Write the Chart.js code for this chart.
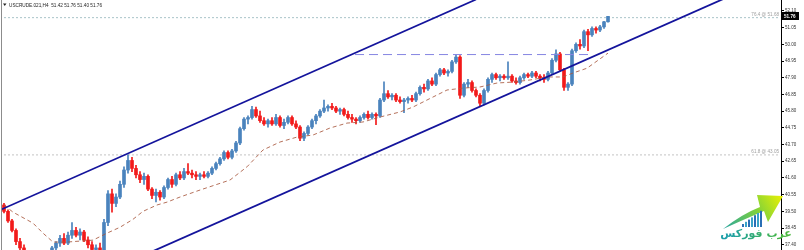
<!DOCTYPE html>
<html>
<head>
<meta charset="utf-8">
<script src="https://cdn.jsdelivr.net/npm/chart.js@4.4.1/dist/chart.umd.min.js"></script>
<style>
  html, body { margin: 0; padding: 0; background: #fff; }
  #wrap { width: 804px; height: 250px; position: relative; }
</style>
</head>
<body>
<div id="wrap"><canvas id="chart"></canvas></div>
<script>
const symbolTitle = 'USCRUDE.021,H4';
const lastQuote = [51.42, 51.76, 51.40, 51.76];

// H4 candles, oldest first
const opens = [
  39.9, 39.5, 38.9, 38.3, 37.6, 37.2, 36.9, 36.6, 36.8, 36.6,
  36.5, 36.8, 36.9, 37.2, 37.5, 37.8, 37.5, 38.0, 38.3, 38.0,
  38.2, 37.7, 37.4, 37.1, 37.2, 37.0, 38.8, 40.6, 40.0, 40.4,
  41.2, 42.1, 42.7, 42.2, 41.8, 41.5, 41.7, 40.9, 40.5, 40.7,
  40.4, 41.0, 41.5, 41.2, 41.8, 41.6, 42.0, 41.9, 41.8, 41.7,
  41.8, 41.7, 41.9, 42.2, 42.5, 42.8, 43.2, 42.9, 43.3, 43.8,
  44.7, 45.3, 45.4, 45.9, 45.5, 45.2, 45.0, 45.2, 45.0, 45.4,
  44.9, 45.1, 45.4, 45.0, 44.8, 44.1, 44.4, 44.8, 45.2, 45.5,
  45.8, 46.0, 46.1, 46.0, 45.8, 45.9, 45.6, 45.4, 45.3, 45.2,
  45.4, 45.6, 45.4, 45.6, 45.5, 46.5, 46.9, 46.7, 46.8, 46.5,
  46.4, 46.5, 46.6, 46.5, 46.9, 47.3, 47.2, 47.7, 47.5, 48.1,
  48.4, 48.2, 48.3, 48.9, 49.2, 46.8, 47.5, 47.6, 47.1, 46.8,
  46.3, 47.1, 47.8, 48.1, 47.9, 48.0, 47.9, 48.0, 47.7, 47.6,
  47.9, 48.1, 48.0, 48.2, 48.0, 47.9, 47.8, 48.2, 49.0, 49.4,
  48.4, 47.3, 47.5, 49.6, 50.0, 49.9, 50.8, 50.6, 51.0, 50.9,
  51.1, 51.42
];
const highs = [
  40.0, 39.6, 39.0, 38.4, 37.8, 37.4, 37.0, 36.9, 36.95, 36.8,
  36.9, 37.0, 37.3, 37.6, 38.0, 38.1, 38.2, 38.8, 38.5, 38.4,
  38.3, 37.9, 37.6, 37.4, 37.5, 39.0, 40.8, 40.9, 40.6, 41.4,
  42.3, 43.05, 42.9, 42.4, 42.0, 41.9, 41.8, 41.0, 40.9, 40.8,
  41.1, 41.6, 41.7, 41.9, 42.0, 42.2, 42.5, 42.1, 42.0, 41.9,
  42.0, 42.0, 42.3, 42.6, 42.9, 43.3, 43.3, 43.4, 43.9, 44.8,
  45.4, 45.5, 46.1, 46.05, 45.8, 45.4, 45.3, 45.4, 45.6, 45.5,
  45.3, 45.5, 45.5, 45.2, 44.9, 44.5, 44.9, 45.3, 45.6, 45.9,
  46.5, 46.2, 46.3, 46.1, 46.0, 46.0, 45.8, 45.6, 45.4, 45.5,
  45.7, 45.8, 45.7, 45.7, 46.6, 47.65, 47.1, 46.9, 46.9, 46.7,
  46.6, 46.7, 46.8, 47.0, 47.4, 47.5, 47.8, 47.9, 48.2, 48.5,
  48.5, 48.4, 49.0, 49.36, 49.3, 47.6, 47.8, 47.7, 47.2, 46.9,
  47.2, 47.9, 48.2, 48.2, 48.1, 48.1, 48.9, 48.1, 47.9, 48.0,
  48.2, 48.2, 48.3, 48.3, 48.1, 48.1, 48.3, 49.1, 49.65, 49.5,
  48.5, 47.6, 49.7, 50.1, 50.3, 50.9, 50.95, 51.1, 51.1, 51.2,
  51.45, 51.76
];
const lows = [
  39.4, 38.8, 38.2, 37.4, 37.0, 36.7, 36.5, 36.4, 36.5, 36.3,
  36.4, 36.6, 36.8, 37.0, 37.3, 37.4, 37.4, 37.8, 37.9, 37.7,
  37.6, 37.2, 36.9, 36.8, 36.9, 36.9, 38.6, 39.45, 39.8, 40.3,
  41.0, 41.9, 42.0, 41.6, 41.3, 41.2, 40.8, 40.3, 40.1, 40.2,
  40.3, 40.9, 41.0, 41.1, 41.5, 41.5, 41.8, 41.6, 41.5, 41.5,
  41.6, 41.6, 41.8, 42.1, 42.4, 42.7, 42.8, 42.8, 43.2, 43.7,
  44.6, 45.0, 45.3, 45.4, 45.1, 44.9, 44.8, 44.9, 44.9, 44.8,
  44.7, 45.0, 44.9, 44.7, 43.95, 43.95, 44.3, 44.7, 45.0, 45.4,
  45.7, 45.8, 45.9, 45.7, 45.6, 45.5, 45.3, 45.1, 45.0, 45.1,
  45.3, 45.3, 45.3, 44.95, 45.4, 46.4, 46.6, 46.5, 46.4, 46.3,
  45.7, 46.3, 46.4, 46.4, 46.8, 47.0, 47.1, 47.4, 47.4, 48.0,
  48.1, 48.0, 48.2, 48.8, 46.6, 46.7, 47.3, 47.0, 46.7, 46.1,
  46.2, 47.0, 47.6, 47.8, 47.7, 47.8, 47.8, 47.6, 47.5, 47.5,
  47.8, 47.9, 47.9, 47.9, 47.7, 47.6, 47.7, 48.1, 48.9, 48.3,
  47.1, 47.1, 47.4, 49.5, 49.7, 49.8, 49.6, 50.5, 50.7, 50.8,
  51.0, 51.40
];
const closes = [
  39.5, 38.9, 38.3, 37.6, 37.2, 36.9, 36.6, 36.8, 36.6, 36.5,
  36.8, 36.9, 37.2, 37.5, 37.8, 37.5, 38.0, 38.3, 38.0, 38.2,
  37.7, 37.4, 37.1, 37.2, 37.0, 38.8, 40.6, 40.0, 40.4, 41.2,
  42.1, 42.7, 42.2, 41.8, 41.5, 41.7, 40.9, 40.5, 40.7, 40.4,
  41.0, 41.5, 41.2, 41.8, 41.6, 42.0, 41.9, 41.8, 41.7, 41.8,
  41.7, 41.9, 42.2, 42.5, 42.8, 43.2, 42.9, 43.3, 43.8, 44.7,
  45.3, 45.4, 45.9, 45.5, 45.2, 45.0, 45.2, 45.0, 45.4, 44.9,
  45.1, 45.4, 45.0, 44.8, 44.1, 44.4, 44.8, 45.2, 45.5, 45.8,
  46.0, 46.1, 46.0, 45.8, 45.9, 45.6, 45.4, 45.3, 45.2, 45.4,
  45.6, 45.4, 45.6, 45.5, 46.5, 46.9, 46.7, 46.8, 46.5, 46.4,
  46.5, 46.6, 46.5, 46.9, 47.3, 47.2, 47.7, 47.5, 48.1, 48.4,
  48.2, 48.3, 48.9, 49.2, 46.8, 47.5, 47.6, 47.1, 46.8, 46.3,
  47.1, 47.8, 48.1, 47.9, 48.0, 47.9, 48.0, 47.7, 47.6, 47.9,
  48.1, 48.0, 48.2, 48.0, 47.9, 47.8, 48.2, 49.0, 49.4, 48.4,
  47.3, 47.5, 49.6, 50.0, 49.9, 50.8, 50.6, 51.0, 50.9, 51.1,
  51.42, 51.76
];

// moving average as [bar, price]
const maPoints = [
  [0, 39.9], [2.25, 39.45], [7.25, 38.76], [9.75, 38.13], [12.25, 37.57],
  [15.75, 37.57], [22.25, 37.69], [25.75, 38.13], [29, 38.5], [32.25, 39.0],
  [34.75, 39.5], [38.25, 39.9], [40.75, 40.08], [44, 40.4], [49, 40.84],
  [56.5, 41.47], [60.75, 42.3], [64.75, 43.36], [69, 43.86], [73.25, 44.17],
  [77.25, 44.3], [81.5, 44.74], [85.75, 45.05], [89.75, 45.12], [94, 45.43],
  [99, 45.75], [102.25, 46.06], [110.75, 47.13], [114.75, 47.25], [119, 47.32],
  [123.25, 47.57], [127.25, 47.63], [131.5, 47.76], [135.75, 47.95], [139.75, 47.95],
  [142.25, 48.2], [145.75, 48.5], [151, 49.45]
];

// drawn objects: channel, resistance, fibo levels
const upperChannel = [[-1, 39.58], [118, 52.82]];
const lowerChannel = [[36, 36.86], [194, 54.43]];
const resistance = [[87.75, 49.36], [147, 49.36]];
const fibLevels = [51.68, 43.05];
const fibNames = ['76.4', '61.8'];
const fibEnd = 194;

const yTicks = [37.40, 38.45, 39.50, 40.55, 41.60, 42.65, 43.70, 44.75,
                45.80, 46.85, 47.90, 48.95, 50.00, 51.05, 52.10];

const bull = '#4a83bd';
const bear = '#f21a1a';
const isUp = i => closes[i] >= opens[i];
const toXY = arr => arr.map(p => ({ x: p[0], y: p[1] }));

Chart.defaults.font.family = '"Liberation Sans", Arial, sans-serif';

const decor = {
    id: 'decor',
    beforeDraw(chart) {
        const c = chart.ctx;
        c.save();
        c.fillStyle = '#fff';
        c.fillRect(0, 0, chart.width, chart.height);
        c.restore();
    },
    afterDatasetsDraw(chart) {
        const c = chart.ctx;
        const y = chart.scales.y;
        const a = chart.chartArea;
        c.save();
        c.font = '4.6px "Liberation Sans"';
        c.fillStyle = '#a0a0a0';
        c.textAlign = 'right';
        c.textBaseline = 'bottom';
        fibLevels.forEach((lv, k) => {
            c.fillText(fibNames[k] + ' @ ' + lv.toFixed(2), a.right - 2, y.getPixelForValue(lv) - 0.5);
        });
        c.restore();
    },
    afterDraw(chart) {
        const c = chart.ctx;
        const a = chart.chartArea;
        const y = chart.scales.y;
        c.save();
        // frame
        c.strokeStyle = '#8c8c8c';
        c.lineWidth = 1;
        c.beginPath();
        c.moveTo(a.left + 0.5, 0);
        c.lineTo(a.left + 0.5, chart.height);
        c.stroke();

        // header
        c.fillStyle = '#222';
        c.beginPath();
        c.moveTo(3, 3.5); c.lineTo(6.5, 3.5); c.lineTo(4.75, 6);
        c.closePath();
        c.fill();
        c.font = '4.7px "Liberation Sans"';
        c.textBaseline = 'alphabetic';
        c.fillText(symbolTitle + '  ' + lastQuote.map(v => v.toFixed(2)).join(' '), 9, 6.5);

        // last price box
        const py = Math.round(y.getPixelForValue(closes[closes.length - 1]));
        c.fillStyle = '#000';
        c.fillRect(a.right + 1, py - 4, 17, 8);
        c.fillStyle = '#fff';
        c.font = 'bold 4.6px "Liberation Sans"';
        c.textAlign = 'left';
        c.textBaseline = 'middle';
        c.fillText(closes[closes.length - 1].toFixed(2), a.right + 3, py + 0.5);

        // logo
        const g = c.createLinearGradient(725, 230, 783, 195);
        g.addColorStop(0, '#2aa6a0');
        g.addColorStop(0.55, '#7fd13b');
        g.addColorStop(1, '#eef200');
        c.fillStyle = g;
        c.beginPath();
        c.moveTo(723, 229);
        c.quadraticCurveTo(742, 214, 760, 207);
        c.lineTo(757, 195);
        c.lineTo(783, 196);
        c.lineTo(768, 222);
        c.lineTo(764, 211);
        c.quadraticCurveTo(745, 219, 723, 229);
        c.fill();
        for (let k = 0; k < 7; k++) {
            c.fillStyle = k % 2 ? '#3aa3c8' : '#2a6fb5';
            const h = 3 + k * 2.2;
            c.fillRect(742 + k * 3, 227 - h, 2, h);
        }
        const tg = c.createLinearGradient(728, 0, 784, 0);
        tg.addColorStop(0, '#1c9fa8');
        tg.addColorStop(1, '#49b83e');
        c.fillStyle = tg;
        c.font = 'bold 11px "DejaVu Sans"';
        c.textAlign = 'center';
        c.textBaseline = 'alphabetic';
        c.fillText('عرب فوركس', 756, 237);
        c.restore();
    }
};

new Chart(document.getElementById('chart'), {
    data: {
        datasets: [
            {
                type: 'bar',
                label: 'wick',
                data: lows.map((l, i) => ({ x: i, y: [l, highs[i]] })),
                backgroundColor: ctx => isUp(ctx.dataIndex) ? bull : bear,
                barThickness: 1,
                grouped: false,
                clip: 0,
                order: 6,
            },
            {
                type: 'bar',
                label: 'body',
                data: opens.map((o, i) => ({ x: i, y: [o, closes[i]] })),
                backgroundColor: ctx => isUp(ctx.dataIndex) ? bull : bear,
                barThickness: 3,
                minBarLength: 1,
                grouped: false,
                clip: 0,
                order: 5,
            },
            {
                type: 'line',
                label: 'MA',
                data: toXY(maPoints),
                borderColor: 'rgba(168, 88, 62, 0.85)',
                borderWidth: 1,
                borderDash: [4, 3],
                pointRadius: 0,
                clip: 0,
                order: 4,
            },
            {
                type: 'line',
                label: 'fibo',
                data: [{ x: -1, y: fibLevels[0] }, { x: fibEnd, y: fibLevels[0] }],
                borderColor: '#a9c3c8',
                borderWidth: 1,
                borderDash: [2, 2],
                pointRadius: 0,
                clip: 0,
                order: 7,
            },
            {
                type: 'line',
                label: 'fibo2',
                data: [{ x: -1, y: fibLevels[1] }, { x: fibEnd, y: fibLevels[1] }],
                borderColor: '#c4c4c4',
                borderWidth: 1,
                borderDash: [2, 2],
                pointRadius: 0,
                clip: 0,
                order: 7,
            },
            {
                type: 'line',
                label: 'resistance',
                data: toXY(resistance),
                borderColor: '#8686e2',
                borderWidth: 1,
                borderDash: [9, 5],
                pointRadius: 0,
                clip: 0,
                order: 3,
            },
            {
                type: 'line',
                label: 'upper',
                data: toXY(upperChannel),
                borderColor: '#14149c',
                borderWidth: 1.8,
                pointRadius: 0,
                clip: 0,
                order: 1,
            },
            {
                type: 'line',
                label: 'lower',
                data: toXY(lowerChannel),
                borderColor: '#14149c',
                borderWidth: 1.8,
                pointRadius: 0,
                clip: 0,
                order: 1,
            },
        ],
    },
    options: {
        responsive: true,
        maintainAspectRatio: false,
        animation: false,
        events: [],
        layout: { padding: { left: 1, right: 0, top: 0, bottom: 0 } },
        plugins: {
            legend: { display: false },
            tooltip: { enabled: false },
        },
        scales: {
            x: {
                type: 'linear',
                min: -0.75,
                max: 194.25,
                offset: false,
                display: false,
            },
            y: {
                position: 'right',
                min: 37.07,
                max: 52.79,
                afterBuildTicks: s => { s.ticks = yTicks.map(v => ({ value: v })); },
                afterFit: s => { s.width = 23; s.paddingTop = 0; s.paddingBottom = 0; },
                border: { display: true, color: '#000', width: 1 },
                grid: { drawOnChartArea: false, drawTicks: true, tickLength: 3, color: '#000' },
                ticks: {
                    color: '#333',
                    padding: 1,
                    autoSkip: false,
                    font: { size: 4.5 },
                    callback: v => Number(v).toFixed(2),
                },
            },
        },
    },
    plugins: [decor],
});
</script>
</body>
</html>
